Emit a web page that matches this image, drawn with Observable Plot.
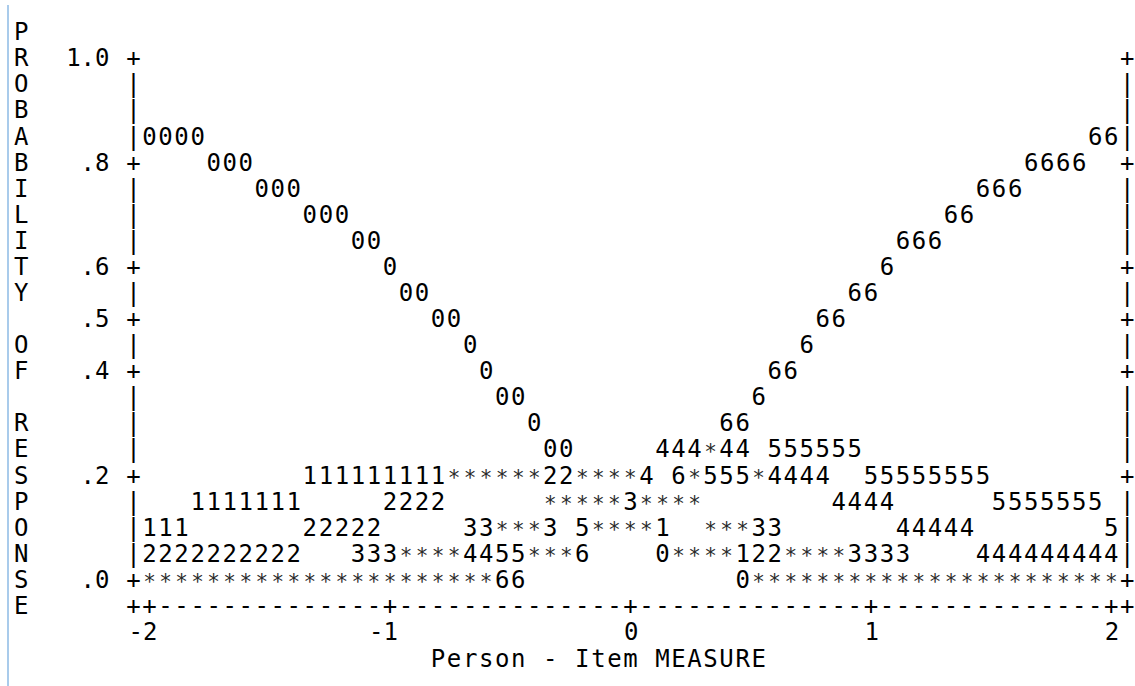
<!DOCTYPE html>
<html>
<head>
<meta charset="utf-8">
<script src="https://cdn.jsdelivr.net/npm/d3@7"></script>
<script src="https://cdn.jsdelivr.net/npm/@observablehq/plot@0.6"></script>
<style>
  html, body { margin: 0; padding: 0; background: #fff; }
  #wrap { position: relative; width: 1135px; height: 686px; overflow: hidden; background: #fff; }
  #edge { position: absolute; left: 7px; top: 5px; bottom: 0; width: 2px; background: #a9cbeb; }
  #wrap svg { position: absolute; left: 0; top: 0; }
</style>
</head>
<body>
<div id="wrap"><div id="edge"></div></div>
<script>
// ---- data (Winsteps-style category probability curves, ASCII plot) ----
const measureTicks = [-2, -1, 0, 1, 2];
const measureTickLabels = ["-2", "-1", "0", "1", "2"];
const probTicks = [0, 0.2, 0.4, 0.5, 0.6, 0.8, 1.0];
const probTickLabels = [".0", ".2", ".4", ".5", ".6", ".8", "1.0"];
const charsPerMeasureUnit = 15;   // plot resolution: 15 columns per logit
const rowsPerProbUnit = 20;       // plot resolution: 20 rows per 1.0 probability
const yTitle = "PROBABILITY OF RESPONSE";
const xTitle = "Person - Item MEASURE";

// One string per probability row, from 1.00 down to .00 (61 columns = measure -2 .. +2)
const curveRows = [
  "",
  "",
  "",
  "0000      " + "          " + "          " + "          " + "          " + "         6" + "6",
  "    000   " + "          " + "          " + "          " + "          " + "     6666 " + " ",
  "       000" + "          " + "          " + "          " + "          " + "  666     " + " ",
  "          " + "000       " + "          " + "          " + "          " + "66        " + " ",
  "          " + "   00     " + "          " + "          " + "       666" + "          " + " ",
  "          " + "     0    " + "          " + "          " + "      6   " + "          " + " ",
  "          " + "      00  " + "          " + "          " + "    66    " + "          " + " ",
  "          " + "        00" + "          " + "          " + "  66      " + "          " + " ",
  "          " + "          " + "0         " + "          " + " 6        " + "          " + " ",
  "          " + "          " + " 0        " + "         6" + "6         " + "          " + " ",
  "          " + "          " + "  00      " + "        6 " + "          " + "          " + " ",
  "          " + "          " + "    0     " + "      66  " + "          " + "          " + " ",
  "          " + "          " + "     00   " + "  444*44 5" + "55555     " + "          " + " ",
  "          " + "111111111*" + "*****22***" + "*4 6*555*4" + "444  55555" + "555       " + " ",
  "   1111111" + "     2222 " + "     *****" + "3****     " + "   4444   " + "   5555555" + " ",
  "111       " + "22222     " + "33***3 5**" + "**1  ***33" + "       444" + "44        " + "5",
  "2222222222" + "   333****" + "4455***6  " + "  0****122" + "****3333  " + "  44444444" + "4",
  "**********" + "**********" + "**66      " + "       0**" + "**********" + "**********" + "*"
];

curveRows.forEach((row, i) => {
  if (row.length !== 0 && row.length !== 61) throw new Error("row " + i + " has length " + row.length);
});

// ---- build character cells in data space (measure, probability) ----
const dx = 1 / charsPerMeasureUnit;
const dy = 1 / rowsPerProbUnit;
const isProbTick = p => probTicks.some(t => Math.abs(t - p) < 1e-9);
const isMeasureTick = m => measureTicks.some(t => Math.abs(t - m) < 1e-9);
const xMin = measureTicks[0], xMax = measureTicks[measureTicks.length - 1];

const cells = [];
curveRows.forEach((row, r) => {
  const p = 1 - r * dy;
  [...row].forEach((ch, i) => {
    if (ch !== " ") cells.push({ x: xMin + i * dx, y: p, ch });
  });
});
const stars = cells.filter(d => d.ch === "*");
const glyphs = cells.filter(d => d.ch !== "*");

// frame: left/right borders
const frame = [];
curveRows.forEach((row, r) => {
  const p = 1 - r * dy;
  const ch = isProbTick(p) ? "+" : "|";
  frame.push({ x: xMin - dx, y: p, ch });
  frame.push({ x: xMax + dx, y: p, ch });
});
// bottom ruler
const nCols = Math.round((xMax - xMin) * charsPerMeasureUnit) + 3;
for (let c = 0; c < nCols; c++) {
  const m = xMin + (c - 1) * dx;
  const ch = (c === 0 || c === nCols - 1 || isMeasureTick(m)) ? "+" : "-";
  frame.push({ x: m, y: -dy, ch });
}
// vertical y-title, one letter per row
const yTitleCells = [];
[...yTitle].forEach((ch, k) => {
  if (ch !== " ") yTitleCells.push({ x: xMin - 8 * dx, y: 1 + dy - k * dy, ch });
});
// x-title below tick labels
const xTitleCells = [];
[...xTitle].forEach((ch, k) => {
  if (ch !== " ") xTitleCells.push({ x: xMin + (18 + k) * dx, y: -3 * dy, ch });
});

const FONT = "DejaVu Sans Mono";
const FS = 24;
const textOpts = { x: "x", y: "y", text: "ch", fontSize: FS, fontFamily: FONT, fill: "#000" };

const chart = Plot.plot({
  width: 1135,
  height: 686,
  marginLeft: 149.03,
  marginRight: 24.2,
  marginTop: 58.08,
  marginBottom: 106.3,
  x: { domain: [xMin, xMax], label: null },
  y: { domain: [0, 1], label: null },
  style: { fontFamily: FONT, fontSize: FS + "px", color: "#000", background: "transparent" },
  marks: [
    Plot.text(glyphs, textOpts),
    Plot.text(stars, { ...textOpts, fontSize: 21, fill: "#2a2a2a", dy: 2 }),
    Plot.text(frame, textOpts),
    Plot.text(yTitleCells, textOpts),
    Plot.text(xTitleCells, { ...textOpts, dy: 1.2 }),
    Plot.axisY(probTicks, {
      tickSize: 0, tickPadding: 40, label: null,
      tickFormat: d => probTickLabels[probTicks.indexOf(d)],
      fontSize: FS, fontFamily: FONT
    }),
    Plot.axisX(measureTicks, {
      tickSize: 0, tickPadding: 43, label: null, textAnchor: "end", dx: 8,
      tickFormat: d => measureTickLabels[measureTicks.indexOf(d)],
      fontSize: FS, fontFamily: FONT
    })
  ]
});
document.getElementById("wrap").prepend(chart);
</script>
</body>
</html>
